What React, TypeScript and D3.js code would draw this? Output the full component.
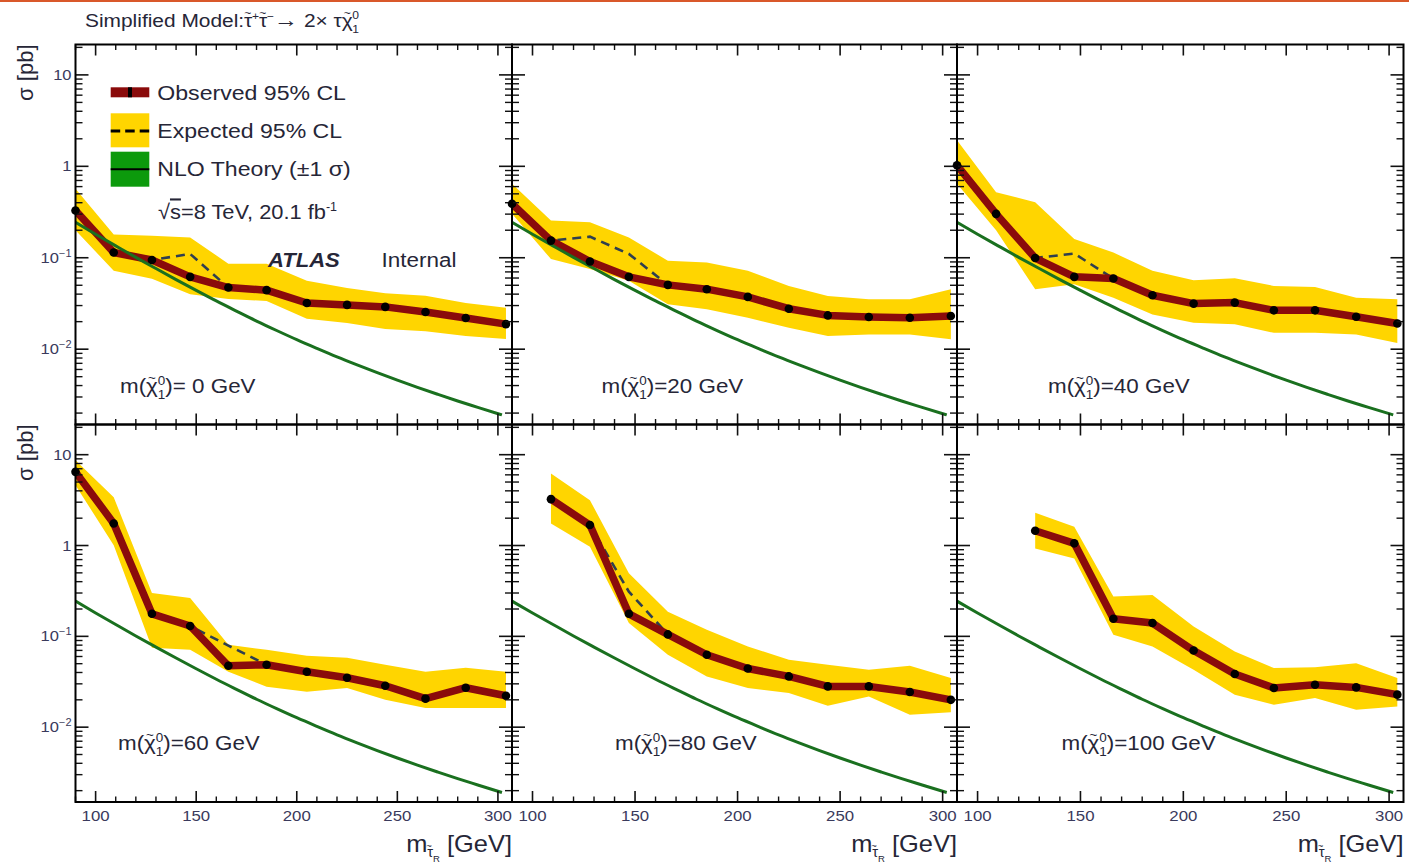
import React from 'react';
import * as d3 from 'd3';

// ---------------- data ----------------
const stauMass = [90, 109, 128, 147, 166, 185, 205, 225, 244, 264, 284, 304];
const lspMass = [0, 20, 40, 60, 80, 100];

const observed0 = [0.328, 0.114, 0.0945, 0.0618, 0.0472, 0.0442, 0.032, 0.0305, 0.029, 0.0255, 0.0219, 0.0188];
const observed20 = [0.389, 0.154, 0.091, 0.0618, 0.0505, 0.0453, 0.0373, 0.0277, 0.0234, 0.0225, 0.0221, 0.0231];
const observed40 = [1.026, 0.302, 0.0993, 0.0618, 0.0593, 0.0389, 0.0315, 0.0323, 0.0266, 0.0266, 0.0226, 0.0191];
const observed60 = [6.47, 1.75, 0.177, 0.13, 0.0474, 0.0487, 0.0407, 0.035, 0.0286, 0.0206, 0.0272, 0.0222];
const observed80 = [null, 3.24, 1.68, 0.177, 0.105, 0.0627, 0.0443, 0.0362, 0.0281, 0.0281, 0.0244, 0.02];
const observed100 = [null, null, 1.455, 1.057, 0.156, 0.14, 0.0698, 0.0385, 0.027, 0.0293, 0.0274, 0.0228];

const expected0 = [0.328, 0.114, 0.0945, 0.11, 0.0472, 0.0442, 0.032, 0.0305, 0.029, 0.0255, 0.0219, 0.0188];
const expected20 = [0.389, 0.154, 0.17, 0.11, 0.0505, 0.0453, 0.0373, 0.0277, 0.0234, 0.0225, 0.0221, 0.0231];
const expected40 = [1.026, 0.302, 0.0993, 0.111, 0.0593, 0.0389, 0.0315, 0.0323, 0.0266, 0.0266, 0.0226, 0.0191];
const expected60 = [6.47, 1.75, 0.177, 0.13, 0.079, 0.0487, 0.0407, 0.035, 0.0286, 0.0206, 0.0272, 0.0222];
const expected80 = [null, 3.24, 1.68, 0.31, 0.105, 0.0627, 0.0443, 0.0362, 0.0281, 0.0281, 0.0244, 0.02];
const expected100 = [null, null, 1.455, 1.057, 0.156, 0.14, 0.0698, 0.0385, 0.027, 0.0293, 0.0274, 0.0228];

const bandHigh0 = [0.57, 0.18, 0.174, 0.167, 0.086, 0.086, 0.056, 0.0468, 0.041, 0.0385, 0.032, 0.0283];
const bandLow0 = [0.2, 0.072, 0.059, 0.04, 0.0354, 0.0336, 0.0215, 0.0193, 0.0166, 0.0157, 0.0139, 0.0129];
const bandHigh20 = [0.645, 0.255, 0.244, 0.167, 0.0927, 0.0888, 0.0719, 0.0492, 0.0382, 0.0351, 0.0351, 0.0453];
const bandLow20 = [0.302, 0.0968, 0.0752, 0.0559, 0.031, 0.0273, 0.0221, 0.0171, 0.0139, 0.0145, 0.0145, 0.0128];
const bandHigh40 = [1.93, 0.522, 0.405, 0.16, 0.114, 0.072, 0.0569, 0.0598, 0.0492, 0.048, 0.0366, 0.0352];
const bandLow40 = [0.645, 0.2, 0.0453, 0.0514, 0.0366, 0.024, 0.0195, 0.0187, 0.0151, 0.0151, 0.0145, 0.0117];
const bandHigh60 = [8.7, 3.4, 0.3, 0.265, 0.081, 0.071, 0.061, 0.058, 0.0487, 0.0407, 0.045, 0.0407];
const bandLow60 = [4.6, 1.01, 0.075, 0.071, 0.0407, 0.0279, 0.0245, 0.027, 0.02, 0.0163, 0.0163, 0.0163];
const bandHigh80 = [null, 6.2, 3.16, 0.494, 0.187, 0.118, 0.0773, 0.0552, 0.0486, 0.0429, 0.0474, 0.0348];
const bandLow80 = [null, 1.75, 0.97, 0.14, 0.0627, 0.0362, 0.027, 0.0238, 0.0172, 0.0218, 0.0137, 0.0146];
const bandHigh100 = [null, null, 2.29, 1.61, 0.274, 0.286, 0.128, 0.068, 0.0447, 0.0458, 0.0507, 0.0348];
const bandLow100 = [null, null, 0.93, 0.72, 0.104, 0.0773, 0.0429, 0.0228, 0.0177, 0.0209, 0.0156, 0.0169];

const theoryMass = [90, 100, 110, 120, 130, 140, 150, 160, 170, 180, 190, 200, 210, 220, 230, 240, 250, 260, 270, 280, 290, 302];
const theoryXsec = [0.244, 0.181, 0.135, 0.101, 0.0762, 0.0577, 0.044, 0.0337, 0.0261, 0.0203, 0.016, 0.0127, 0.0102, 0.00824, 0.00673, 0.00553, 0.00458, 0.00382, 0.00321, 0.00271, 0.00231, 0.00191];

const xMajorTicks = [100, 150, 200, 250, 300];
const xMinorTicks = [90, 110, 120, 130, 140, 160, 170, 180, 190, 210, 220, 230, 240, 260, 270, 280, 290];
const yMajorTicks = [0.01, 0.1, 1, 10];
const yMajorLabels = [['10', '−2'], ['10', '−1'], ['1', ''], ['10', '']];
const yMinorFactors = [2, 3, 4, 5, 6, 7, 8, 9];
const yDecades = [0.001, 0.01, 0.1, 1, 10];

const observedSeries = [observed0, observed20, observed40, observed60, observed80, observed100];
const expectedSeries = [expected0, expected20, expected40, expected60, expected80, expected100];
const bandHighSeries = [bandHigh0, bandHigh20, bandHigh40, bandHigh60, bandHigh80, bandHigh100];
const bandLowSeries = [bandLow0, bandLow20, bandLow40, bandLow60, bandLow80, bandLow100];

// ---------------- layout / style ----------------
const W = 1409;
const H = 866;
const FONT = '"Liberation Sans", Arial, Helvetica, sans-serif';
const colX = [[75.5, 512], [512, 957], [957, 1403.5]];
const rowY = [[44.5, 424.5], [424.5, 802]];
const X_DOMAIN = [90, 307];
const Y_DOMAIN = [0.0015, 21.5];
const labelPos = [[120, 392.5], [601.5, 392.5], [1048, 392.5], [118, 750], [615, 750], [1061.5, 750]];

const C_YELLOW = '#ffd500';
const C_RED = '#8a0b0b';
const C_GREEN_LINE = '#1a701f';
const C_GREEN_BOX = '#0c9a0c';
const C_DASH = '#2f3f4f';
const C_TEXT = '#262637';

function SText({ x, y, sx = 1.1, anchor = 'start', size, weight, italic, fill = C_TEXT, children }: any) {
  return (
    <g transform={`translate(${x},${y}) scale(${sx},1)`}>
      <text x={0} y={0} textAnchor={anchor} fontSize={size} fontWeight={weight}
        fontStyle={italic ? 'italic' : 'normal'} fill={fill} fontFamily={FONT}>
        {children}
      </text>
    </g>
  );
}

function Panel({ i }: { i: number }) {
  const col = i % 3;
  const row = Math.floor(i / 3);
  const [x0, x1] = colX[col];
  const [y0, y1] = rowY[row];
  const x = d3.scaleLinear().domain(X_DOMAIN).range([x0, x1]);
  const y = d3.scaleLog().domain(Y_DOMAIN).range([y1, y0]);
  const obs = observedSeries[i];
  const exp = expectedSeries[i];
  const hi = bandHighSeries[i];
  const lo = bandLowSeries[i];
  const idx = stauMass.map((_, k) => k).filter((k) => obs[k] != null);

  const band = d3.area<number>()
    .x((k) => x(stauMass[k]))
    .y0((k) => y(lo[k] as number))
    .y1((k) => y(hi[k] as number));
  const lineObs = d3.line<number>().x((k) => x(stauMass[k])).y((k) => y(obs[k] as number));
  const lineExp = d3.line<number>().x((k) => x(stauMass[k])).y((k) => y(exp[k] as number));
  const theory = d3.line<number>()
    .x((k) => x(theoryMass[k]))
    .y((k) => y(theoryXsec[k]))
    .curve(d3.curveMonotoneX);

  const yMinor: number[] = [];
  yDecades.forEach((d) => yMinorFactors.forEach((f) => {
    const v = d * f;
    if (v > Y_DOMAIN[0] && v < Y_DOMAIN[1]) yMinor.push(v);
  }));

  const clipId = `clip${i}`;
  const tk = '#111';
  const MAJ_Y = 13, MIN_Y = 7, MAJ_X = 11, MIN_X = 5.5;

  const [lx, ly] = labelPos[i];

  return (
    <g>
      <defs>
        <clipPath id={clipId}>
          <rect x={x0} y={y0} width={x1 - x0} height={y1 - y0} />
        </clipPath>
      </defs>
      <g clipPath={`url(#${clipId})`}>
        <path d={band(idx) || ''} fill={C_YELLOW} />
        <path d={lineExp(idx) || ''} fill="none" stroke={C_DASH} strokeWidth={2.6} strokeDasharray="9,6" />
        <path d={lineObs(idx) || ''} fill="none" stroke={C_RED} strokeWidth={7.5} strokeLinejoin="round" />
        <path d={theory(theoryMass.map((_, k) => k)) || ''} fill="none" stroke={C_GREEN_LINE} strokeWidth={3} />
      </g>
      {idx.map((k) => (
        <circle key={k} cx={x(stauMass[k])} cy={y(obs[k] as number)} r={4.3} fill="#000" />
      ))}

      {/* y ticks */}
      {yMajorTicks.map((v) => (
        <g key={'yM' + v}>
          <line x1={x0} x2={x0 + MAJ_Y} y1={y(v)} y2={y(v)} stroke={tk} strokeWidth={1.6} />
          <line x1={x1} x2={x1 - MAJ_Y} y1={y(v)} y2={y(v)} stroke={tk} strokeWidth={1.6} />
        </g>
      ))}
      {yMinor.map((v) => (
        <g key={'ym' + v}>
          <line x1={x0} x2={x0 + MIN_Y} y1={y(v)} y2={y(v)} stroke={tk} strokeWidth={1.4} />
          <line x1={x1} x2={x1 - MIN_Y} y1={y(v)} y2={y(v)} stroke={tk} strokeWidth={1.4} />
        </g>
      ))}
      {/* x ticks */}
      {xMajorTicks.map((v) => (
        <g key={'xM' + v}>
          <line x1={x(v)} x2={x(v)} y1={y1} y2={y1 - MAJ_X} stroke={tk} strokeWidth={1.6} />
          <line x1={x(v)} x2={x(v)} y1={y0} y2={y0 + MAJ_X} stroke={tk} strokeWidth={1.6} />
        </g>
      ))}
      {xMinorTicks.map((v) => (
        <g key={'xm' + v}>
          <line x1={x(v)} x2={x(v)} y1={y1} y2={y1 - MIN_X} stroke={tk} strokeWidth={1.4} />
          <line x1={x(v)} x2={x(v)} y1={y0} y2={y0 + MIN_X} stroke={tk} strokeWidth={1.4} />
        </g>
      ))}
      <rect x={x0} y={y0} width={x1 - x0} height={y1 - y0} fill="none" stroke="#000" strokeWidth={2} />

      {/* y tick labels */}
      {col === 0 && yMajorTicks.map((v, k) => (
        <SText key={'yl' + v} x={x0 - 4} y={y(v) + 5} anchor="end" size={15} sx={1.1} fill="#3a3a5c">
          <tspan>{yMajorLabels[k][0]}</tspan>
          {yMajorLabels[k][1] && <tspan dy={-6} fontSize={10}>{yMajorLabels[k][1]}</tspan>}
        </SText>
      ))}
      {/* x tick labels */}
      {row === 1 && xMajorTicks.map((v) => (
        <SText key={'xl' + v} x={x(v)} y={820.5} anchor="middle" size={15} sx={1.12} fill="#3a3a5c">
          {String(v)}
        </SText>
      ))}
      {/* x axis title */}
      {row === 1 && (
        <SText x={x1} y={852} anchor="end" size={24} sx={1.06}>
          <tspan>m</tspan>
          <tspan dy={5} fontSize={14}>τ</tspan>
          <tspan dx={-6.6} dy={-8} fontSize={9}>~</tspan>
          <tspan dx={1.2} dy={13} fontSize={9}>R</tspan>
          <tspan dy={-10} fontSize={24}> [GeV]</tspan>
        </SText>
      )}
      {/* y axis title */}
      {col === 0 && (
        <g transform={`translate(33,${y0}) rotate(-90)`}>
          <text x={0} y={0} textAnchor="end" fontSize={22} fontFamily={FONT} fill={C_TEXT}>σ [pb]</text>
        </g>
      )}
      {/* panel label */}
      <SText x={lx} y={ly} size={20} sx={1.12}>
        <tspan>m(</tspan>
        <tspan>χ</tspan>
        <tspan dx={-8.8} dy={-11} fontSize={12}>~</tspan>
        <tspan dx={1.8} dy={3} fontSize={12}>0</tspan>
        <tspan dx={-6.7} dy={14} fontSize={12}>1</tspan>
        <tspan dy={-6}>{')=' + (lspMass[i] === 0 ? ' 0' : String(lspMass[i])) + ' GeV'}</tspan>
      </SText>
    </g>
  );
}

function Legend() {
  return (
    <g>
      <rect x={110.7} y={87.3} width={38.6} height={10} fill={C_RED} />
      <rect x={128} y={87.3} width={4} height={10} fill="#000" />
      <SText x={157.3} y={99.8} size={21} sx={1.1}>Observed 95% CL</SText>

      <rect x={110.7} y={113.3} width={38.6} height={34} fill={C_YELLOW} />
      <line x1={110.7} x2={149.3} y1={131} y2={131} stroke="#000" strokeWidth={3} strokeDasharray="9.5,5" />
      <SText x={157.3} y={138.2} size={21} sx={1.1}>Expected 95% CL</SText>

      <rect x={110.7} y={151.7} width={38.6} height={35} fill={C_GREEN_BOX} />
      <line x1={110.7} x2={149.3} y1={169.3} y2={169.3} stroke="#000" strokeWidth={2} />
      <SText x={157.3} y={175.8} size={21} sx={1.1}>NLO Theory (±1 σ)</SText>

      <SText x={158} y={219} size={21} sx={1.04}>
        <tspan>√</tspan>
        <tspan textDecoration="overline">s</tspan>
        <tspan>=8 TeV, 20.1 fb</tspan>
        <tspan dy={-8} fontSize={12}>-1</tspan>
      </SText>

      <SText x={268} y={266.8} size={21} sx={1.05} weight="bold" italic>ATLAS</SText>
      <SText x={381.5} y={266.8} size={21} sx={1.07}>Internal</SText>
    </g>
  );
}

export default function App() {
  return (
    <svg width={W} height={H} viewBox={`0 0 ${W} ${H}`}
      style={{ position: 'absolute', left: 0, top: 0, background: '#fff' }}>
      <rect x={0} y={0} width={W} height={H} fill="#fff" />
      <rect x={0} y={0} width={W} height={2} fill="#d9582a" />
      <SText x={85} y={27} size={19} sx={1.1}>
        <tspan>Simplified Model:</tspan>
        <tspan>τ</tspan>
        <tspan dx={-7.3} dy={-10} fontSize={11}>~</tspan>
        <tspan dx={0.5} dy={3} fontSize={11}>+</tspan>
        <tspan dy={7}>τ</tspan>
        <tspan dx={-7.3} dy={-10} fontSize={11}>~</tspan>
        <tspan dx={0.5} dy={3} fontSize={11}>−</tspan>
        <tspan dy={7} fontSize={22}>→</tspan>
        <tspan>{' 2× τχ'}</tspan>
        <tspan dx={-8.3} dy={-10} fontSize={11}>~</tspan>
        <tspan dx={1.5} dy={2} fontSize={11}>0</tspan>
        <tspan dx={-6.1} dy={14} fontSize={11}>1</tspan>
      </SText>
      {lspMass.map((_, i) => <Panel key={i} i={i} />)}
      <Legend />
    </svg>
  );
}
